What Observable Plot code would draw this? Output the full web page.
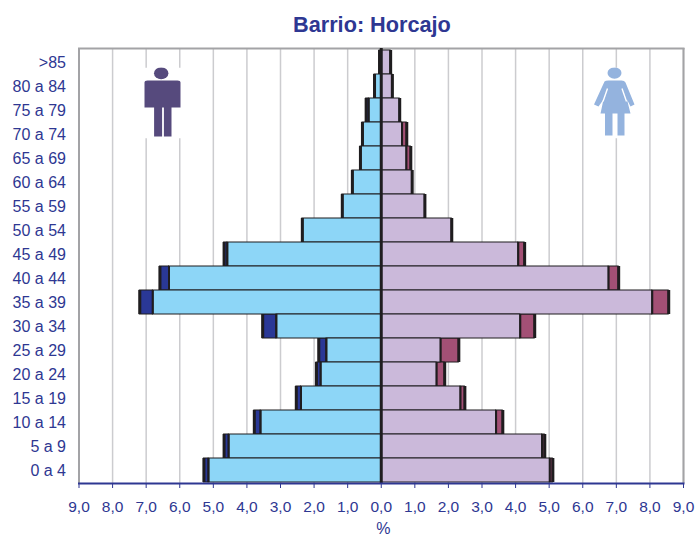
<!DOCTYPE html>
<html>
<head>
<meta charset="utf-8">
<script src="https://cdn.jsdelivr.net/npm/d3@7"></script>
<script src="https://cdn.jsdelivr.net/npm/@observablehq/plot@0.6"></script>
<style>
  html, body { margin: 0; padding: 0; background: #fff; }
  #title { height: 40px; width: 695px; box-sizing: border-box; padding: 13px 0 0 293px; font: bold 21.7px "Liberation Sans", Arial, sans-serif; line-height: 24px; color: #2e3792; white-space: nowrap; }
  svg { display: block; }
</style>
</head>
<body>
<div id="title">Barrio: Horcajo</div>
<div id="chart"></div>
<script>
const ages = [">85","80 a 84","75 a 79","70 a 74","65 a 69","60 a 64","55 a 59","50 a 54","45 a 49","40 a 44","35 a 39","30 a 34","25 a 29","20 a 24","15 a 19","10 a 14","5 a 9","0 a 4"];
const maleInner   = [0.05,0.20,0.37,0.56,0.62,0.86,1.16,2.35,4.58,6.32,6.80,3.12,1.63,1.80,2.39,3.59,4.54,5.14];
const maleTotal   = [0.05,0.20,0.45,0.56,0.62,0.86,1.16,2.35,4.68,6.59,7.19,3.53,1.86,1.93,2.53,3.78,4.68,5.28];
const femaleInner = [0.28,0.33,0.55,0.62,0.75,0.92,1.30,2.10,4.08,6.77,8.07,4.14,1.77,1.65,2.36,3.42,4.79,5.02];
const femaleTotal = [0.28,0.33,0.55,0.76,0.88,0.92,1.30,2.10,4.27,7.07,8.56,4.57,2.31,1.89,2.49,3.62,4.87,5.11];
const xTicks = d3.range(-9, 10);

const rows = ages.map((age, i) => ({
  age,
  mi: -maleInner[i], mt: -maleTotal[i],
  fi: femaleInner[i], ft: femaleTotal[i]
}));

const blue = "#2e3792";
const ink = "#1f1d1f";

const manSvg = `<svg xmlns='http://www.w3.org/2000/svg' width='43' height='71' viewBox='10 12 43 71'>
<rect x='10' y='12' width='43' height='71' fill='white'/>
<ellipse cx='30.7' cy='17.7' rx='7.2' ry='6' fill='#564a7d'/>
<path d='M14 27 Q14 25 17 25 L47 25 Q50 25 50 27 L50 52 L41 52 L41 81 L33.4 81 L33.4 52 L31.6 52 L31.6 81 L23.6 81 L23.6 52 L14 52 Z' fill='#564a7d'/></svg>`;

const womanSvg = `<svg xmlns='http://www.w3.org/2000/svg' width='44' height='71' viewBox='7 12 44 71'>
<rect x='7' y='12' width='44' height='71' fill='white'/>
<ellipse cx='29' cy='17.5' rx='7' ry='5.8' fill='#94b3de'/>
<path d='M19 26 Q20 25 23 25 L36 25 Q39 25 40 27 L49 49 L45 51 L41.5 44 L45 58 L39 58 L39 80 L32 80 L32 58 L27 58 L27 80 L19.5 80 L19.5 58 L15 58 L18 44 L13 51 L8.5 49 Z' fill='#94b3de'/>
<path d='M22 33 L17.5 46 M36.5 33 L41 46' stroke='white' stroke-width='1.4' fill='none'/></svg>`;
const uri = s => "data:image/svg+xml;utf8," + encodeURIComponent(s);

const plot = Plot.plot({
  width: 695,
  height: 499,
  marginTop: 8,
  marginBottom: 56,
  marginLeft: 78.5,
  marginRight: 12,
  style: { background: "#fff", fontFamily: '"Liberation Sans", Arial, sans-serif', overflow: "visible" },
  x: { domain: [-9, 9] },
  y: { domain: ages, padding: 0 },
  marks: [
    Plot.ruleX(xTicks, { stroke: "#cccccf", strokeWidth: 1.5 }),
    Plot.image([0], { frameAnchor: "top-left", dx: 83, dy: 54.5, width: 43, height: 71, preserveAspectRatio: "none", src: () => uri(manSvg) }),
    Plot.image([0], { frameAnchor: "top-left", dx: 535.5, dy: 54.5, width: 44, height: 71, preserveAspectRatio: "none", src: () => uri(womanSvg) }),
    Plot.ruleX([-9, 9], { stroke: "#a3a3a6", strokeWidth: 2 }),
    Plot.frame({ anchor: "top", stroke: "#a3a3a6", strokeWidth: 2 }),
    Plot.barX(rows, { y: "age", x1: "mi", x2: "mt", fill: "#2a3896", stroke: ink, strokeWidth: 1 }),
    Plot.barX(rows, { y: "age", x1: 0, x2: "mi", fill: "#8dd6f7", stroke: ink, strokeWidth: 1 }),
    Plot.barX(rows, { y: "age", x1: "fi", x2: "ft", fill: "#a35075", stroke: ink, strokeWidth: 1 }),
    Plot.barX(rows, { y: "age", x1: 0, x2: "fi", fill: "#cbb9da", stroke: ink, strokeWidth: 1 }),
    Plot.tickX(rows, { y: "age", x: "mt", stroke: ink, strokeWidth: 3 }),
    Plot.tickX(rows, { y: "age", x: "mi", stroke: ink, strokeWidth: 2 }),
    Plot.tickX(rows, { y: "age", x: "ft", stroke: ink, strokeWidth: 3 }),
    Plot.tickX(rows, { y: "age", x: "fi", stroke: ink, strokeWidth: 2 }),
    Plot.ruleX([0], { stroke: ink, strokeWidth: 3 }),
    Plot.frame({ anchor: "bottom", stroke: blue, strokeWidth: 2 }),
    Plot.axisY({ anchor: "left", tickSize: 0, tickPadding: 13, fontSize: 16, color: blue, stroke: blue, label: null }),
    Plot.axisX(xTicks, {
      anchor: "bottom", tickSize: 5, tickPadding: 12, fontSize: 15.5, color: blue, stroke: blue,
      tickFormat: d => Math.abs(d).toFixed(1).replace(".", ","),
      label: null
    }),
    Plot.text(["%"], { frameAnchor: "bottom", dx: 2, dy: 50, fontSize: 16, fill: blue })
  ]
});
document.getElementById("chart").appendChild(plot);
</script>
</body>
</html>
